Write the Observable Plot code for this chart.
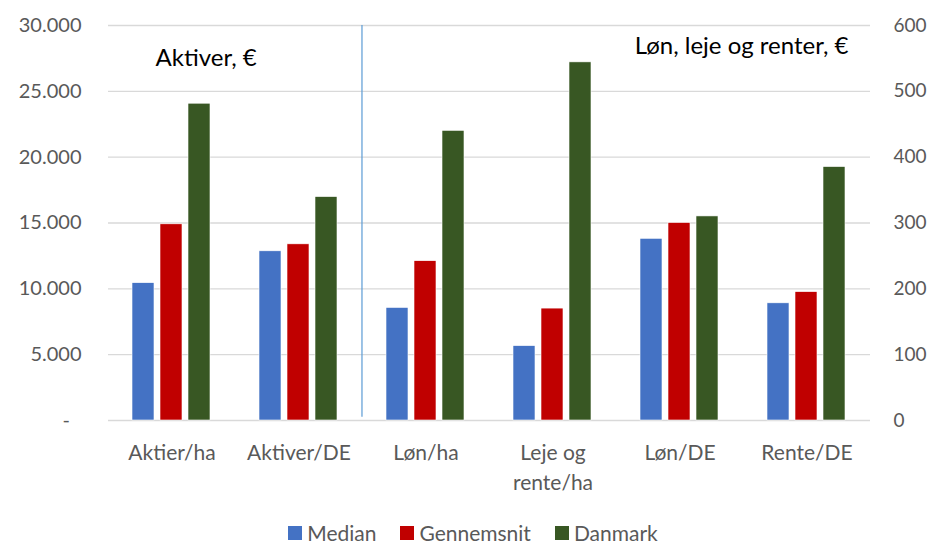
<!DOCTYPE html>
<html>
<head>
<meta charset="utf-8">
<script src="https://cdn.jsdelivr.net/npm/d3@7"></script>
<script src="https://cdn.jsdelivr.net/npm/@observablehq/plot@0.6"></script>
<style>
  html, body { margin: 0; padding: 0; background: #fff; }
  body { width: 934px; height: 545px; overflow: hidden; font-family: Lato, "Open Sans", sans-serif; }
  #legend { display: flex; justify-content: center; gap: 24px; margin-top: 22px; height: 22px; line-height: 22px; font-size: 21px; color: #595959; padding-left: 12px; }
  #legend span.item { display: flex; align-items: center; gap: 5px; }
  #legend span.sw { width: 14px; height: 14px; display: inline-block; }
</style>
</head>
<body>
<div id="chart"></div>
<div id="legend"></div>
<script>
// ---- data ----
const categories = ["Aktier/ha", "Aktiver/DE", "Løn/ha", "Leje og rente/ha", "Løn/DE", "Rente/DE"];
const categoryLabels = ["Aktier/ha", "Aktiver/DE", "Løn/ha", "Leje og\nrente/ha", "Løn/DE", "Rente/DE"];
const axisSide = ["left", "left", "right", "right", "right", "right"];
const series = ["Median", "Gennemsnit", "Danmark"];
const colors = ["#4472c4", "#c00000", "#385723"];
const median = [10430, 12850, 171, 113, 276, 178];
const gennemsnit = [14900, 13380, 242, 170, 300, 195];
const danmark = [24060, 16970, 440, 544, 310, 385];
const leftTicks = [0, 5000, 10000, 15000, 20000, 25000, 30000];
const rightTicks = [0, 100, 200, 300, 400, 500, 600];
const leftMax = 30000, rightMax = 600;
const ratio = leftMax / rightMax;
const leftTitle = [{category: "Aktier/ha", text: "Aktiver, €", ref: "Median", y: 27530}];
const rightTitle = [{category: "Rente/DE", text: "Løn, leje og renter, €", ref: "Danmark", y: 28440}];

const valuesBySeries = [median, gennemsnit, danmark];
const data = [];
categories.forEach((c, i) => series.forEach((s, j) => {
  data.push({category: c, series: s, value: valuesBySeries[j][i], side: axisSide[i]});
}));

const W = 934, H = 500, mL = 106, mR = 62;
const pIn = 0.21, pOut = 0.86;
const facetW = (W - mL - mR) / categories.length;
const step = facetW / (series.length - pIn + 2 * pOut);
const firstCenter = pOut * step + step * (1 - pIn) / 2;

const fmtLeft = d => d === 0 ? "-\u2007" : d3.format(",")(d).replace(/,/g, ".");

const chart = Plot.plot({
  width: W, height: H,
  marginLeft: mL, marginRight: mR, marginTop: 25, marginBottom: 80,
  style: {fontFamily: "Lato, 'Open Sans', sans-serif", background: "#fff", overflow: "visible"},
  fx: {domain: categories, padding: 0, axis: null},
  x: {domain: series, paddingInner: pIn, paddingOuter: pOut, axis: null},
  y: {domain: [0, leftMax], axis: null},
  color: {domain: series, range: colors},
  marks: [
    Plot.gridY(leftTicks, {stroke: "#d9d9d9", strokeOpacity: 1, strokeWidth: 1.3}),
    Plot.axisY(leftTicks, {anchor: "left", tickSize: 0, tickPadding: 27, tickFormat: fmtLeft, fontSize: 20, fill: "#595959", label: null}),
    Plot.axisY(rightTicks.map(d => d * ratio), {anchor: "right", tickSize: 0, tickPadding: 23, tickFormat: d => String(d / ratio), fontSize: 19, fill: "#595959", label: null}),
    Plot.barY(data, {
      fx: "category", x: "series",
      y: d => d.side === "left" ? d.value : d.value * ratio,
      fill: "series", stroke: "#fff", strokeWidth: 0.6
    }),
    Plot.ruleX([{category: "Løn/ha"}], {fx: "category", x: () => series[0], y1: 250, y2: leftMax, dx: -firstCenter, stroke: "#5b9bd5", strokeWidth: 1.2}),
    Plot.text(leftTitle, {fx: "category", x: "ref", y: "y", text: "text", textAnchor: "start", dx: 12, fontSize: 24, fill: "#000"}),
    Plot.text(rightTitle, {fx: "category", x: "ref", y: "y", text: "text", textAnchor: "end", dx: 14, fontSize: 24, fill: "#000"}),
    Plot.text(categories.map((c, i) => ({category: c, label: categoryLabels[i]})), {
      fx: "category", text: "label", frameAnchor: "bottom", lineAnchor: "top",
      dy: 19, fontSize: 21, fill: "#595959", lineHeight: 1.4
    })
  ]
});
document.getElementById("chart").appendChild(chart);

const legend = document.getElementById("legend");
series.forEach((s, i) => {
  const item = document.createElement("span");
  item.className = "item";
  item.innerHTML = `<span class="sw" style="background:${colors[i]}"></span><span>${s}</span>`;
  legend.appendChild(item);
});
</script>
</body>
</html>
